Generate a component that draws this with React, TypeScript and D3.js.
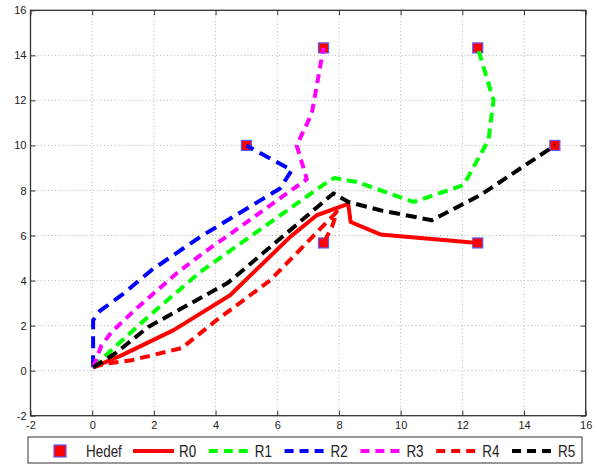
import React, { useRef, useEffect } from "react";
import * as d3 from "d3";

// axis ticks
const xTicks = [-2, 0, 2, 4, 6, 8, 10, 12, 14, 16];
const yTicks = [-2, 0, 2, 4, 6, 8, 10, 12, 14, 16];

// targets ("Hedef")
const hedefX = [5, 7.5, 12.5, 15, 12.5, 7.5];
const hedefY = [10, 14.33, 14.33, 10, 5.67, 5.67];

// robot paths, [x, y]
const r0 = [[0.03, 0.15], [0.95, 0.68], [2.64, 1.8], [4.47, 3.35], [6.42, 5.94], [7.28, 6.9], [8.3, 7.4], [8.38, 6.6], [9.34, 6.05], [12.5, 5.67]];
const r1 = [[0.03, 0.15], [0.68, 0.98], [1.82, 2.4], [3.5, 4.38], [7.71, 8.46], [7.85, 8.55], [8.58, 8.38], [10.42, 7.49], [12.04, 8.24], [12.85, 10.24], [13.01, 12.01], [12.5, 14.33]];
const r2 = [[0.03, 0.15], [0.03, 2.24], [0.25, 2.65], [0.95, 3.35], [1.92, 4.46], [3.5, 5.94], [6.09, 8.09], [6.47, 8.9], [5, 10]];
const r3 = [[0.03, 0.15], [0.3, 1.12], [0.63, 1.72], [1.49, 2.83], [2.79, 4.38], [3.5, 5.12], [6.96, 8.5], [6.63, 10.0], [7.12, 11.42], [7.5, 14.33]];
const r4 = [[0.03, 0.15], [0.41, 0.31], [1.27, 0.46], [2.9, 1.0], [4.03, 2.24], [5.77, 4.01], [7.93, 7.05], [7.78, 6.4], [7.5, 5.67]];
const r5 = [[0.03, 0.15], [0.74, 0.76], [1.82, 1.94], [2.79, 2.68], [4.4, 3.9], [6.42, 6.24], [7.82, 7.87], [8.31, 7.49], [9.34, 7.12], [11.01, 6.68], [12.58, 7.79], [15, 10]];

const robotPaths = [r0, r1, r2, r3, r4, r5];
const robotNames = ["R0", "R1", "R2", "R3", "R4", "R5"];
const robotColors = ["#ff0000", "#00ff00", "#0000ff", "#ff00ff", "#ff0000", "#000000"];
const robotDash = [null, "10,6", "12,7", "9,6", "10,6", "11,6"];

const W = 597;
const H = 465;

const App = () => {
    const svgRef = useRef(null);

    useEffect(() => {
        const svg = d3.select(svgRef.current);
        svg.selectAll("*").remove();

        const left = 30.5, right = 585.7, top = 10.3, bottom = 415.7;
        const x = d3.scaleLinear().domain([-2, 16]).range([left, right]);
        const y = d3.scaleLinear().domain([-2, 16]).range([bottom, top]);

        // grid
        const grid = svg.append("g").attr("stroke", "#b4b4b4").attr("stroke-width", 1).attr("stroke-dasharray", "1,2.5");
        grid.selectAll(".gx").data(xTicks.slice(1, -1)).enter().append("line")
            .attr("x1", (d) => x(d)).attr("x2", (d) => x(d)).attr("y1", top).attr("y2", bottom);
        grid.selectAll(".gy").data(yTicks.slice(1, -1)).enter().append("line")
            .attr("y1", (d) => y(d)).attr("y2", (d) => y(d)).attr("x1", left).attr("x2", right);

        // axes
        const fmt = (d) => String(d);
        const styleAxis = (g) => {
            g.select(".domain").remove();
            g.selectAll("line").attr("stroke", "#333").attr("stroke-width", 1);
            g.selectAll("text").attr("fill", "#222").attr("font-size", 11).attr("font-family", "Liberation Sans, Arial, sans-serif");
        };
        svg.append("g").attr("transform", `translate(0,${bottom})`)
            .call(d3.axisBottom(x).tickValues(xTicks).tickFormat(fmt).tickSizeInner(-5).tickSizeOuter(0).tickPadding(6))
            .call(styleAxis);
        svg.append("g").attr("transform", `translate(${left},0)`)
            .call(d3.axisLeft(y).tickValues(yTicks).tickFormat(fmt).tickSizeInner(-5).tickSizeOuter(0).tickPadding(4))
            .call(styleAxis);
        svg.append("g").attr("transform", `translate(0,${top})`)
            .call(d3.axisTop(x).tickValues(xTicks).tickFormat(() => "").tickSizeInner(-5).tickSizeOuter(0))
            .call(styleAxis);
        svg.append("g").attr("transform", `translate(${right},0)`)
            .call(d3.axisRight(y).tickValues(yTicks).tickFormat(() => "").tickSizeInner(-5).tickSizeOuter(0))
            .call(styleAxis);
        svg.append("rect").attr("x", left).attr("y", top).attr("width", right - left).attr("height", bottom - top)
            .attr("fill", "none").attr("stroke", "#333").attr("stroke-width", 1.3);

        // targets
        const ms = 10;
        svg.append("g").selectAll("rect").data(hedefX).enter().append("rect")
            .attr("x", (d) => x(d) - ms / 2)
            .attr("y", (d, i) => y(hedefY[i]) - ms / 2)
            .attr("width", ms).attr("height", ms)
            .attr("fill", "#ff0000").attr("stroke", "#5a5aff").attr("stroke-width", 1.2);

        // robot paths
        const line = d3.line().x((d) => x(d[0])).y((d) => y(d[1]));
        svg.append("g").selectAll("path").data(robotPaths).enter().append("path")
            .attr("d", line)
            .attr("fill", "none")
            .attr("stroke", (d, i) => robotColors[i])
            .attr("stroke-width", 4)
            .attr("stroke-linejoin", "round")
            .attr("stroke-dasharray", (d, i) => robotDash[i]);

        // legend
        const leg = svg.append("g");
        leg.append("rect").attr("x", 28).attr("y", 437).attr("width", 554).attr("height", 26)
            .attr("fill", "#fff").attr("stroke", "#333").attr("stroke-width", 1);
        const ly = 451;
        const font = "Liberation Sans, Arial, sans-serif";
        leg.append("rect").attr("x", 54).attr("y", ly - 6).attr("width", 12).attr("height", 12)
            .attr("fill", "#ff0000").attr("stroke", "#5a5aff").attr("stroke-width", 1.2);
        leg.append("text").attr("transform", `translate(86,${ly + 6}) scale(0.84,1)`)
            .attr("font-size", 16).attr("font-family", font).attr("fill", "#222").text("Hedef");
        robotNames.forEach((name, i) => {
            const x0 = 133 + 75.8 * i;
            leg.append("line").attr("x1", x0).attr("x2", x0 + 41).attr("y1", ly).attr("y2", ly)
                .attr("stroke", robotColors[i]).attr("stroke-width", 4)
                .attr("stroke-dasharray", i === 0 ? null : "9,6");
            leg.append("text").attr("transform", `translate(${x0 + 46},${ly + 6}) scale(0.84,1)`)
                .attr("font-size", 16).attr("font-family", font).attr("fill", "#222").text(name);
        });
    }, []);

    return (
        <svg ref={svgRef} width={W} height={H} style={{ position: "absolute", left: 0, top: 0 }} />
    );
};

export default App;
